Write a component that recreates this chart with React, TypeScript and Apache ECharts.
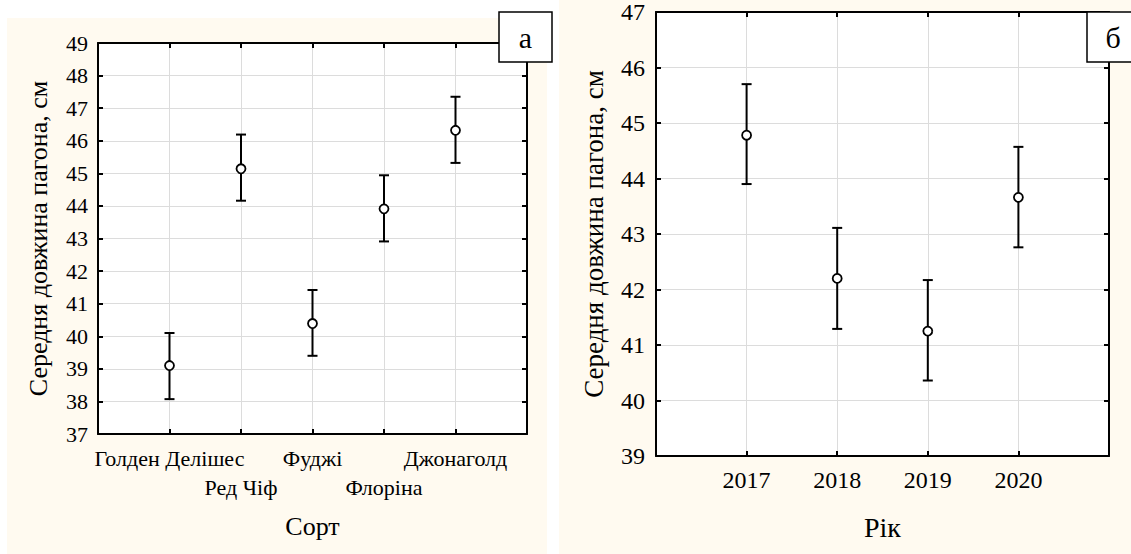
import React, { useEffect, useRef } from "react";
import * as echarts from "echarts";

const varieties = ["Голден Делішес", "Ред Чіф", "Фуджі", "Флоріна", "Джонаголд"];
const varietyMeans = [39.1, 45.14, 40.39, 43.91, 46.32];
const varietyLower = [38.07, 44.16, 39.4, 42.91, 45.32];
const varietyUpper = [40.1, 46.19, 41.42, 44.94, 47.35];

const years = ["2017", "2018", "2019", "2020"];
const yearMeans = [44.78, 42.2, 41.25, 43.66];
const yearLower = [43.9, 41.29, 40.36, 42.76];
const yearUpper = [45.7, 43.11, 42.17, 44.57];

const yTitle = "Середня довжина пагона, см";
const leftXTitle = "Сорт";
const rightXTitle = "Рік";

const FONT = "Liberation Serif";
const BEIGE = "#FFFAF0";

function errorBarSeries(xi: number, yi: number, lower: number[], upper: number[]) {
  return {
    type: "custom",
    xAxisIndex: xi,
    yAxisIndex: yi,
    z: 2,
    renderItem: (_p: any, api: any) => {
      const x = api.value(0);
      const lo = api.coord([x, api.value(1)]);
      const hi = api.coord([x, api.value(2)]);
      const w = 5;
      const st = { stroke: "#000", lineWidth: 2 };
      return {
        type: "group",
        children: [
          { type: "line", shape: { x1: lo[0], y1: lo[1], x2: hi[0], y2: hi[1] }, style: st },
          { type: "line", shape: { x1: lo[0] - w, y1: lo[1], x2: lo[0] + w, y2: lo[1] }, style: st },
          { type: "line", shape: { x1: hi[0] - w, y1: hi[1], x2: hi[0] + w, y2: hi[1] }, style: st },
        ],
      };
    },
    encode: { x: 0, y: [1, 2] },
    data: lower.map((l, i) => [i + 1, l, upper[i]]),
  };
}

function meanSeries(xi: number, yi: number, means: number[]) {
  return {
    type: "scatter",
    xAxisIndex: xi,
    yAxisIndex: yi,
    z: 3,
    symbol: "circle",
    symbolSize: 9,
    itemStyle: { color: "#fff", borderColor: "#000", borderWidth: 1.8, opacity: 1 },
    data: means.map((m, i) => [i + 1, m]),
  };
}

const axisLine = { show: true, onZero: false, lineStyle: { color: "#000", width: 2 } };
const axisTick = { show: true, inside: true, length: 5, lineStyle: { color: "#000", width: 2 } };
const splitLine = { show: true, lineStyle: { color: "#dcdcdc", width: 1 } };

export default function App() {
  const ref = useRef<HTMLDivElement>(null);
  useEffect(() => {
    if (!ref.current) return;
    const chart = echarts.init(ref.current, undefined, { renderer: "svg" });
    const option: any = {
      animation: false,
      backgroundColor: "#fff",
      textStyle: { fontFamily: FONT },
      grid: [
        { left: 98, top: 43, width: 429, height: 391, show: true, backgroundColor: "#fff", borderWidth: 0 },
        { left: 656, top: 10, width: 453, height: 446, show: true, backgroundColor: "#fff", borderWidth: 0 },
      ],
      xAxis: [
        {
          type: "value", gridIndex: 0, position: "bottom", min: 0, max: varieties.length + 1, interval: 1,
          axisLine, axisTick, splitLine,
          axisLabel: {
            fontFamily: FONT, fontSize: 22, color: "#000", margin: 10, lineHeight: 29,
            formatter: (v: number) => {
              const i = Math.round(v) - 1;
              if (i < 0 || i >= varieties.length) return "";
              return i % 2 === 0 ? varieties[i] : "\n" + varieties[i];
            },
          },
          name: leftXTitle, nameLocation: "middle", nameGap: 79,
          nameTextStyle: { fontFamily: FONT, fontSize: 26, color: "#000" },
        },
        {
          type: "value", gridIndex: 0, position: "top", min: 0, max: varieties.length + 1, interval: 1,
          axisLine, axisTick, splitLine: { show: false }, axisLabel: { show: false },
        },
        {
          type: "value", gridIndex: 1, position: "bottom", min: 0, max: years.length + 1, interval: 1,
          axisLine, axisTick, splitLine,
          axisLabel: {
            fontFamily: FONT, fontSize: 24, color: "#000", margin: 12,
            formatter: (v: number) => {
              const i = Math.round(v) - 1;
              return i >= 0 && i < years.length ? years[i] : "";
            },
          },
          name: rightXTitle, nameLocation: "middle", nameGap: 57,
          nameTextStyle: { fontFamily: FONT, fontSize: 28, color: "#000" },
        },
        {
          type: "value", gridIndex: 1, position: "top", min: 0, max: years.length + 1, interval: 1,
          axisLine, axisTick, splitLine: { show: false }, axisLabel: { show: false },
        },
      ],
      yAxis: [
        {
          type: "value", gridIndex: 0, position: "left", min: 37, max: 49, interval: 1,
          axisLine, axisTick, splitLine,
          axisLabel: { fontFamily: FONT, fontSize: 22, color: "#000", margin: 10 },
          name: yTitle, nameLocation: "middle", nameGap: 47,
          nameTextStyle: { fontFamily: FONT, fontSize: 26, color: "#000" },
        },
        {
          type: "value", gridIndex: 0, position: "right", min: 37, max: 49, interval: 1,
          axisLine, axisTick, splitLine: { show: false }, axisLabel: { show: false },
        },
        {
          type: "value", gridIndex: 1, position: "left", min: 39, max: 47, interval: 1,
          axisLine, axisTick, splitLine,
          axisLabel: { fontFamily: FONT, fontSize: 24, color: "#000", margin: 11 },
          name: yTitle, nameLocation: "middle", nameGap: 49,
          nameTextStyle: { fontFamily: FONT, fontSize: 27, color: "#000" },
        },
        {
          type: "value", gridIndex: 1, position: "right", min: 39, max: 47, interval: 1,
          axisLine, axisTick, splitLine: { show: false }, axisLabel: { show: false },
        },
      ],
      graphic: [
        { type: "rect", z: -100, shape: { x: 7, y: 18, width: 540, height: 536 }, style: { fill: BEIGE } },
        { type: "rect", z: -100, shape: { x: 559, y: 0, width: 572, height: 554 }, style: { fill: BEIGE } },
        { type: "rect", z: 100, shape: { x: 499, y: 12, width: 53, height: 50 }, style: { fill: "#fff", stroke: "#000", lineWidth: 1.5 } },
        { type: "text", z: 101, x: 525.5, y: 37, style: { text: "а", fontFamily: FONT, fontSize: 30, fill: "#000", align: "center", verticalAlign: "middle" } },
        { type: "rect", z: 100, shape: { x: 1087, y: 12, width: 60, height: 50 }, style: { fill: "#fff", stroke: "#000", lineWidth: 1.5 } },
        { type: "text", z: 101, x: 1113, y: 37, style: { text: "б", fontFamily: FONT, fontSize: 30, fill: "#000", align: "center", verticalAlign: "middle" } },
      ],
      series: [
        errorBarSeries(0, 0, varietyLower, varietyUpper),
        meanSeries(0, 0, varietyMeans),
        errorBarSeries(2, 2, yearLower, yearUpper),
        meanSeries(2, 2, yearMeans),
      ],
    };
    chart.setOption(option);
    return () => chart.dispose();
  }, []);
  return <div ref={ref} style={{ position: "absolute", left: 0, top: 0, width: 1131, height: 554 }} />;
}
